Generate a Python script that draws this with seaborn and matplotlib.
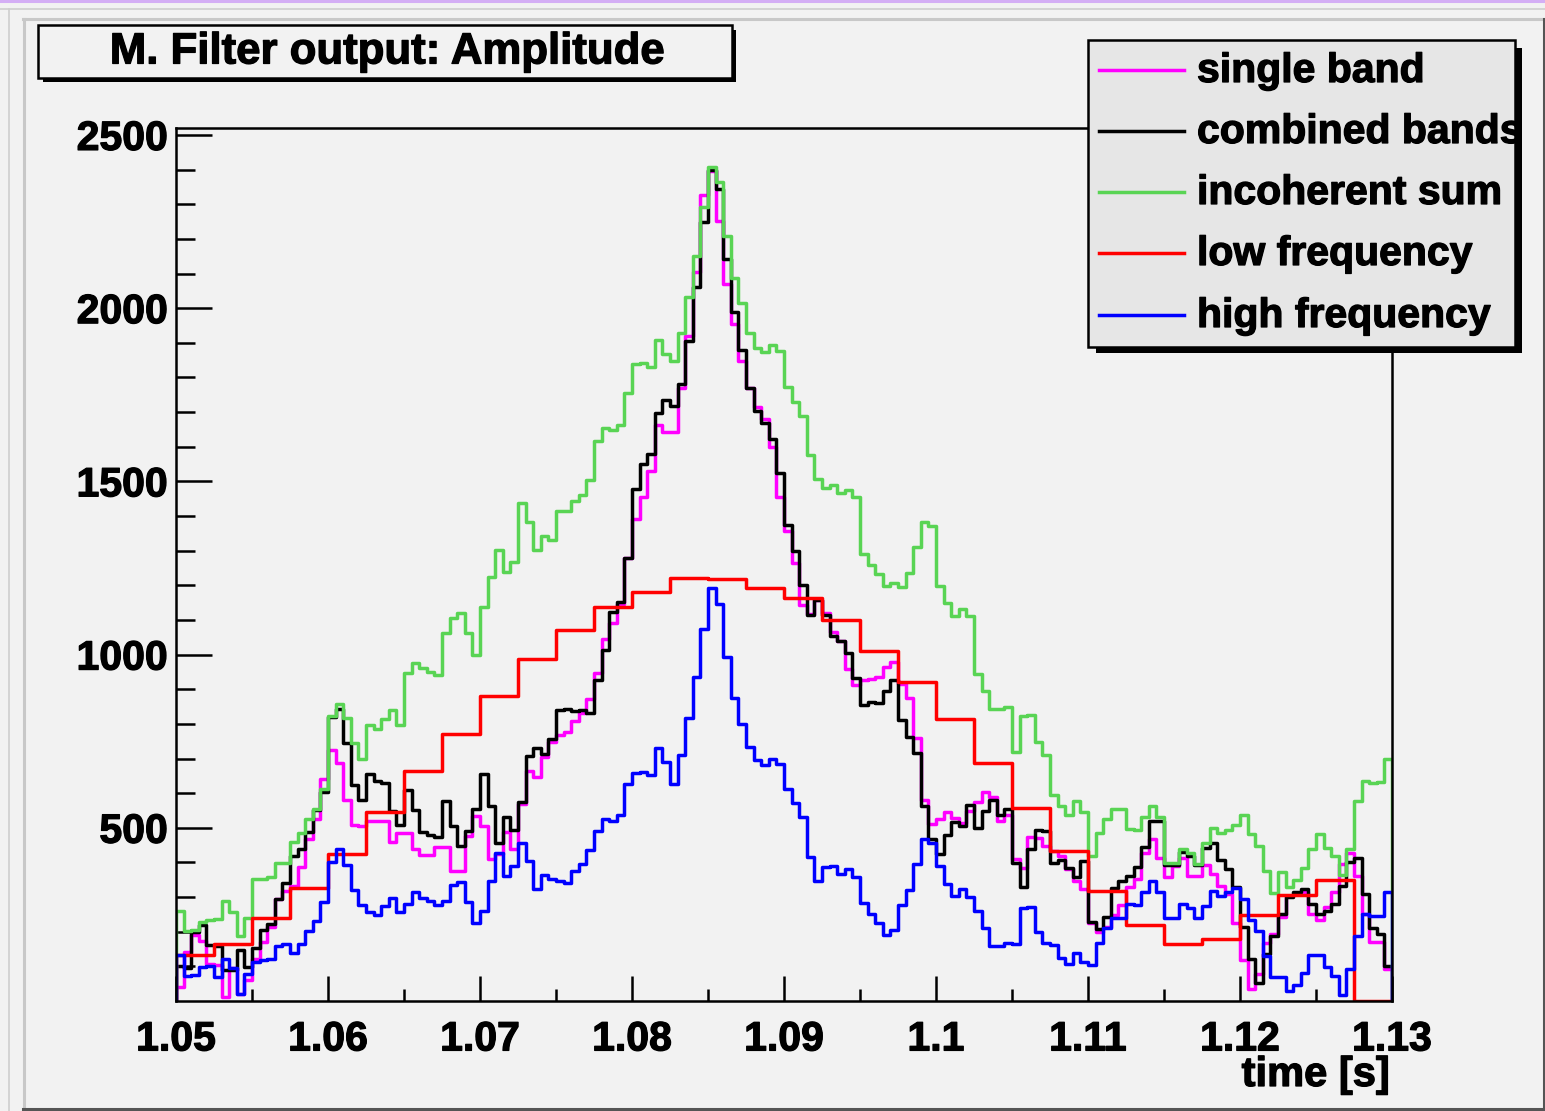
import numpy as np
import matplotlib
matplotlib.use("Agg")
import matplotlib.pyplot as plt
import matplotlib.patheffects as pe
import seaborn as sns
from matplotlib.patches import Rectangle
from matplotlib.lines import Line2D

# ---- data (fine bins: 0.5 ms, coarse bins: 2.5 ms) ----
t_start = 1.05
fine_width = 0.0005
coarse_width = 0.0025

single_band = [
    40, 141, 190, 173, 108, 103, 12, 94, 20, 60,
    122, 170, 213, 294, 318, 333, 387, 467, 524, 641,
    725, 688, 581, 509, 505, 521, 521, 521, 460, 486,
    486, 438, 422, 422, 445, 445, 376, 376, 476, 533,
    505, 409, 424, 489, 438, 569, 663, 648, 703, 749,
    768, 777, 809, 830, 871, 947, 1045, 1091, 1145, 1280,
    1391, 1456, 1531, 1664, 1642, 1642, 1769, 1920, 2104, 2326,
    2396, 2251, 2070, 1953, 1846, 1769, 1714, 1680, 1599, 1456,
    1357, 1265, 1142, 1118, 1157, 1121, 1066, 1040, 959, 911,
    928, 930, 935, 964, 978, 916, 875, 758, 579, 510,
    526, 546, 527, 514, 548, 575, 603, 588, 519, 536,
    411, 385, 473, 471, 447, 433, 419, 380, 347, 323,
    225, 199, 213, 247, 277, 330, 352, 428, 467, 414,
    359, 390, 414, 361, 361, 392, 368, 333, 309, 225,
    119, 36, 79, 167, 194, 242, 304, 309, 314, 251,
    234, 272, 316, 395, 428, 361, 251, 170, 170, 92,
]

combined_bands = [
    100, 95, 200, 218, 163, 158, 89, 89, 146, 97,
    154, 204, 221, 294, 342, 419, 438, 489, 550, 603,
    820, 842, 744, 624, 579, 655, 636, 629, 548, 507,
    610, 550, 489, 479, 473, 576, 504, 447, 490, 555,
    655, 564, 457, 532, 495, 574, 706, 729, 712, 756,
    839, 842, 836, 839, 832, 927, 1014, 1123, 1152, 1279,
    1477, 1549, 1580, 1697, 1735, 1717, 1781, 1905, 2061, 2248,
    2398, 2343, 2142, 1989, 1878, 1769, 1702, 1668, 1623, 1523,
    1375, 1298, 1201, 1114, 1157, 1114, 1054, 1040, 1004, 933,
    853, 863, 861, 895, 928, 811, 763, 717, 562, 467,
    424, 479, 517, 505, 565, 500, 548, 581, 538, 555,
    398, 328, 438, 493, 490, 397, 406, 385, 357, 404,
    228, 207, 243, 325, 345, 361, 388, 445, 521, 519,
    392, 392, 430, 420, 393, 443, 457, 407, 380, 328,
    213, 122, 51, 135, 187, 250, 299, 316, 323, 280,
    251, 259, 280, 333, 400, 414, 309, 211, 194, 101,
]

incoherent_sum = [
    259, 202, 204, 228, 234, 236, 288, 256, 187, 239,
    352, 352, 357, 397, 397, 460, 486, 526, 555, 612,
    823, 858, 818, 746, 698, 798, 785, 815, 839, 796,
    946, 976, 961, 951, 940, 1062, 1107, 1119, 1062, 999,
    1136, 1223, 1303, 1237, 1267, 1437, 1384, 1303, 1343, 1332,
    1413, 1413, 1442, 1461, 1504, 1617, 1655, 1649, 1664, 1754,
    1838, 1841, 1829, 1908, 1867, 1846, 1927, 2033, 2151, 2292,
    2407, 2364, 2209, 2087, 2015, 1929, 1886, 1872, 1893, 1877,
    1771, 1729, 1690, 1577, 1507, 1482, 1490, 1466, 1475, 1456,
    1289, 1258, 1234, 1198, 1207, 1196, 1236, 1311, 1384, 1372,
    1198, 1148, 1112, 1131, 1110, 943, 895, 842, 842, 850,
    718, 823, 827, 747, 711, 594, 562, 538, 576, 546,
    419, 486, 526, 554, 554, 497, 493, 532, 564, 532,
    398, 398, 440, 428, 395, 455, 500, 486, 495, 507,
    538, 481, 447, 376, 312, 372, 330, 349, 385, 438,
    481, 443, 419, 364, 438, 576, 636, 629, 632, 699,
]

high_frequency = [
    132, 72, 75, 98, 100, 70, 122, 94, 20, 78,
    113, 119, 122, 160, 165, 138, 165, 202, 232, 287,
    400, 438, 393, 320, 278, 256, 247, 275, 297, 256,
    280, 314, 297, 290, 277, 288, 336, 344, 285, 225,
    261, 347, 428, 361, 390, 455, 404, 323, 364, 352,
    347, 342, 374, 395, 435, 490, 524, 519, 536, 626,
    658, 662, 651, 731, 691, 627, 710, 818, 935, 1075,
    1193, 1147, 992, 875, 801, 734, 696, 682, 699, 684,
    612, 572, 532, 417, 345, 387, 389, 368, 380, 358,
    282, 250, 225, 191, 204, 278, 320, 395, 469, 457,
    390, 337, 304, 323, 299, 259, 211, 158, 158, 167,
    165, 269, 272, 199, 167, 161, 125, 108, 139, 113,
    105, 167, 211, 239, 239, 280, 278, 314, 347, 314,
    239, 239, 280, 269, 239, 275, 318, 304, 314, 325,
    293, 234, 202, 129, 68, 68, 30, 46, 82, 132,
    132, 98, 73, 17, 91, 189, 251, 245, 245, 314,
]

low_frequency = [
    132, 165, 239, 326, 425, 545, 664, 772, 880, 986,
    1072, 1136, 1182, 1220, 1219, 1193, 1164, 1099, 1011, 920,
    813, 686, 556, 433, 318, 218, 165, 180, 249, 307,
    350, 0,
]

series_names = ["single band", "combined bands", "incoherent sum",
                "low frequency", "high frequency"]
series_colors = ["#ff00ff", "#000000", "#59d454", "#ff0000", "#0000ff"]

x_ticks = [1.05, 1.06, 1.07, 1.08, 1.09, 1.10, 1.11, 1.12, 1.13]
x_tick_labels = ["1.05", "1.06", "1.07", "1.08", "1.09", "1.1", "1.11", "1.12", "1.13"]
y_ticks = [500, 1000, 1500, 2000, 2500]
y_tick_labels = ["500", "1000", "1500", "2000", "2500"]

title = "M. Filter output: Amplitude"
x_label = "time [s]"

W, H = 1545, 1111
BG = "#f2f2f2"
LW = 2.5
# slightly heavier glyphs, like the ROOT/Helvetica bold rendering
HEAVY = [pe.withStroke(linewidth=0.9, foreground="black")]


def outline(width, vals):
    """ROOT-style histogram outline: rise from 0, steps, drop back to 0."""
    vals = np.asarray(vals, dtype=float)
    edges = t_start + width * np.arange(len(vals) + 1)
    xs = np.repeat(edges, 2)
    ys = np.concatenate([[0.0], np.repeat(vals, 2), [0.0]])
    return xs, ys


def fx(px):
    return px / W


def fy(py):
    return 1 - py / H


plt.rcParams["font.family"] = ["Liberation Sans", "DejaVu Sans"]
plt.rcParams["font.weight"] = "bold"

fig = plt.figure(figsize=(W / 100, H / 100), dpi=100, facecolor=BG)

# canvas bevel lines
fig.add_artist(Line2D([0, 1], [fy(1), fy(1)], color="#d4aef5", lw=2.2))
fig.add_artist(Line2D([0, 1], [fy(8.5), fy(8.5)], color="#cfcfcf", lw=1.2))
fig.add_artist(Line2D([fx(8.5), fx(8.5)], [0, fy(8.5)], color="#cfcfcf", lw=1.2))
fig.add_artist(Line2D([fx(23), fx(1544)], [fy(19), fy(19)], color="#c8c8c8", lw=2.2))
fig.add_artist(Line2D([fx(24), fx(24)], [fy(19), fy(1109)], color="#c8c8c8", lw=2.2))
fig.add_artist(Line2D([fx(1544), fx(1544)], [fy(19), fy(1109)], color="#555555", lw=2.2))
fig.add_artist(Line2D([fx(23), fx(1544)], [fy(1109), fy(1109)], color="#555555", lw=2.2))

ax = fig.add_axes([fx(176), fy(1001), fx(1392 - 176), (1001 - 128) / H])
ax.set_facecolor(BG)

fine_series = [single_band, combined_bands, incoherent_sum]
for vals, color in zip(fine_series, series_colors[:3]):
    xs, ys = outline(fine_width, vals)
    sns.lineplot(x=xs, y=ys, sort=False, estimator=None, color=color,
                 lw=LW, ax=ax)

xs, ys = outline(coarse_width, low_frequency)
sns.lineplot(x=xs, y=ys, sort=False, estimator=None, color=series_colors[3],
             lw=LW, ax=ax)
xs, ys = outline(fine_width, high_frequency)
sns.lineplot(x=xs, y=ys, sort=False, estimator=None, color=series_colors[4],
             lw=LW, ax=ax)

ax.set_xlim(1.05, 1.13)
ax.set_ylim(0, 2520)
ax.set_xticks(x_ticks)
ax.set_xticklabels(x_tick_labels)
ax.set_xticks(np.arange(1.055, 1.13, 0.01), minor=True)
ax.set_yticks(y_ticks)
ax.set_yticklabels(y_tick_labels)
ax.set_yticks(np.arange(100, 2501, 100), minor=True)
ax.set_xlabel("")
ax.set_ylabel("")

for side in ["left", "bottom", "top", "right"]:
    ax.spines[side].set_linewidth(1.8)
    ax.spines[side].set_color("black")

ax.tick_params(axis="x", which="major", direction="in", length=18, width=1.8,
               labelsize=29.5, pad=14)
ax.tick_params(axis="x", which="minor", direction="in", length=9, width=1.8)
ax.tick_params(axis="y", which="major", direction="in", length=26, width=1.8,
               labelsize=29.5, pad=6)
ax.tick_params(axis="y", which="minor", direction="in", length=13.5, width=1.8)
for lab in ax.get_xticklabels() + ax.get_yticklabels():
    lab.set_fontweight("bold")
    lab.set_path_effects(HEAVY)

fig.text(fx(1390), fy(1086), x_label, ha="right", va="baseline",
         fontsize=30, fontweight="bold", path_effects=HEAVY)

# title box
fig.add_artist(Rectangle((fx(43), fy(82)), fx(736 - 43), (82 - 30) / H,
                         transform=fig.transFigure, facecolor="black",
                         edgecolor="none"))
fig.add_artist(Rectangle((fx(38), fy(78)), fx(732 - 38), (78 - 25) / H,
                         transform=fig.transFigure, facecolor=BG,
                         edgecolor="black", lw=1.8))
fig.text(fx(387), fy(52), title, ha="center", va="center",
         fontsize=31.5, fontweight="bold", path_effects=HEAVY)

# legend box
fig.add_artist(Rectangle((fx(1096), fy(353)), fx(1522 - 1096), (353 - 48) / H,
                         transform=fig.transFigure, facecolor="black",
                         edgecolor="none", zorder=5))
fig.add_artist(Rectangle((fx(1088), fy(347)), fx(1515 - 1088), (347 - 40) / H,
                         transform=fig.transFigure, facecolor="#e6e6e6",
                         edgecolor="black", lw=1.8, zorder=6))
entry_y = [70, 131, 192, 253, 315]
for name, color, ypx in zip(series_names, series_colors, entry_y):
    fig.add_artist(Line2D([fx(1099), fx(1184)], [fy(ypx), fy(ypx)],
                          color=color, lw=LW, zorder=7))
    fig.text(fx(1197), fy(ypx + 1), name, ha="left", va="center",
             fontsize=29.5, fontweight="bold", zorder=7, path_effects=HEAVY)

fig.savefig("out.png", dpi=100, facecolor=BG)
